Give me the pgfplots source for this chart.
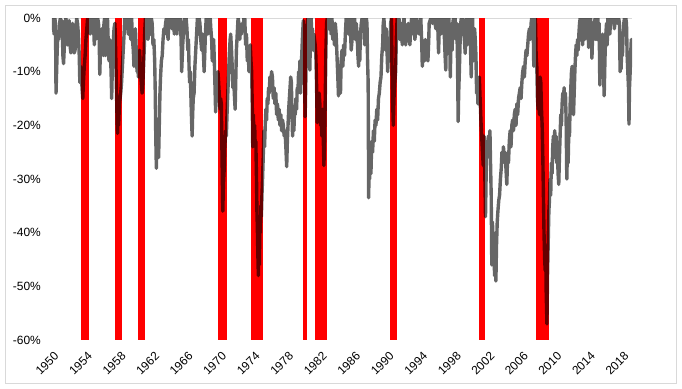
\documentclass[border=0pt]{standalone}
\usepackage{fontspec}
\setmainfont{Liberation Sans}
\usepackage{pgfplots}
\pgfplotsset{compat=1.18}
\definecolor{axgray}{RGB}{217,217,217}
\definecolor{recred}{RGB}{255,0,0}
\begin{document}
\begin{tikzpicture}
\path[use as bounding box] (0,0) rectangle (682bp,389bp);
\draw[axgray, line width=0.8bp] (5.5bp,5.5bp) rectangle (676.5bp,383.5bp);
\begin{axis}[
  at={(52bp,49bp)}, anchor=south west, scale only axis,
  width=580bp, height=322bp,
  xmin=1950, xmax=2019.2, ymin=-60, ymax=0,
  axis line style={draw=none}, major tick length=0pt,
  xtick={1950,1954,1958,1962,1966,1970,1974,1978,1982,1986,1990,1994,1998,2002,2006,2010,2014,2018},
  xticklabels={1950,1954,1958,1962,1966,1970,1974,1978,1982,1986,1990,1994,1998,2002,2006,2010,2014,2018},
  ytick={-60,-50,-40,-30,-20,-10,0},
  yticklabels={-60\%,-50\%,-40\%,-30\%,-20\%,-10\%,0\%},
  tick label style={font=\fontsize{12}{14}\selectfont},
  xticklabel style={inner sep=0pt, yshift=-11bp, xshift=1.5bp, rotate=45, anchor=north east},
  yticklabel style={inner sep=0pt, anchor=east, xshift=-11bp},
  /pgf/number format/assume math mode=true,
  clip=true,
]
\draw[axgray, line width=0.8bp] (axis cs:1950,0) -- (axis cs:2019.2,0);
% recession bars
\addplot[fill=recred, draw=none] coordinates {(1953.46,0) (1954.42,0) (1954.42,-60) (1953.46,-60)};
\addplot[fill=recred, draw=none] coordinates {(1957.52,0) (1958.32,0) (1958.32,-60) (1957.52,-60)};
\addplot[fill=recred, draw=none] coordinates {(1960.22,0) (1961.10,0) (1961.10,-60) (1960.22,-60)};
\addplot[fill=recred, draw=none] coordinates {(1969.85,0) (1970.85,0) (1970.85,-60) (1969.85,-60)};
\addplot[fill=recred, draw=none] coordinates {(1973.75,0) (1975.14,0) (1975.14,-60) (1973.75,-60)};
\addplot[fill=recred, draw=none] coordinates {(1979.99,0) (1980.45,0) (1980.45,-60) (1979.99,-60)};
\addplot[fill=recred, draw=none] coordinates {(1981.38,0) (1982.78,0) (1982.78,-60) (1981.38,-60)};
\addplot[fill=recred, draw=none] coordinates {(1990.33,0) (1991.13,0) (1991.13,-60) (1990.33,-60)};
\addplot[fill=recred, draw=none] coordinates {(2000.99,0) (2001.70,0) (2001.70,-60) (2000.99,-60)};
\addplot[fill=recred, draw=none] coordinates {(2007.76,0) (2009.31,0) (2009.31,-60) (2007.76,-60)};
% drawdown
\addplot[draw=black, draw opacity=0.6, line width=3.4bp, line join=round, mark=none] coordinates {
(1950.00,0) (1950.08,-2) (1950.15,-0.5) (1950.25,-3) (1950.35,0) (1950.42,-1.5) (1950.48,-14) (1950.55,-10) (1950.62,-6) (1950.70,-3) (1950.80,-4) (1950.90,-1)
(1951.00,0) (1951.10,-2) (1951.20,-0.5) (1951.30,-7) (1951.38,-8.5) (1951.48,-5) (1951.55,-2) (1951.65,0) (1951.75,-1) (1951.85,-5) (1951.95,-2)
(1952.05,-0.5) (1952.15,-5) (1952.25,-6.5) (1952.35,-3) (1952.45,-1) (1952.55,-4.5) (1952.65,-6.5) (1952.75,-6) (1952.85,-2) (1952.95,0)
(1953.05,-1) (1953.15,-3) (1953.25,-7) (1953.32,-12) (1953.40,-9) (1953.50,-10) (1953.58,-13) (1953.67,-15) (1953.75,-12) (1953.85,-9) (1953.95,-7)
(1954.05,-4) (1954.15,-2) (1954.25,0) (1954.35,-1.5) (1954.45,0) (1954.55,-3) (1954.65,0) (1954.75,-2) (1954.85,0) (1954.95,-1)
(1955.05,-5) (1955.12,-1) (1955.20,-4) (1955.28,0) (1955.38,-3) (1955.45,0) (1955.55,-1) (1955.62,-3) (1955.70,-10.5) (1955.78,-6) (1955.85,-4) (1955.95,-2)
(1956.05,-4.5) (1956.12,-7) (1956.20,-1) (1956.28,0) (1956.38,-7) (1956.45,-5) (1956.55,-1) (1956.62,0) (1956.72,-5) (1956.80,-8) (1956.88,-4) (1956.95,-6)
(1957.05,-10) (1957.12,-15) (1957.20,-9) (1957.30,-5) (1957.40,-2) (1957.50,-1) (1957.55,-3) (1957.62,-8) (1957.70,-14) (1957.78,-20) (1957.82,-21.5) (1957.88,-18) (1957.95,-20)
(1958.05,-16) (1958.12,-15) (1958.20,-14) (1958.30,-12) (1958.40,-9) (1958.50,-6) (1958.60,-3) (1958.68,0) (1958.75,-1) (1958.85,0)
(1959.00,-1) (1959.10,-3) (1959.20,0) (1959.30,-2) (1959.40,-4) (1959.50,0) (1959.60,-4) (1959.70,-6) (1959.78,-9) (1959.85,-5) (1959.95,-2)
(1960.05,-6) (1960.15,-10) (1960.22,-8) (1960.30,-11) (1960.38,-7) (1960.45,-6) (1960.55,-10) (1960.65,-12) (1960.75,-14) (1960.82,-13) (1960.90,-10)
(1961.00,-6) (1961.08,-2) (1961.15,0) (1961.25,-1) (1961.35,0) (1961.45,-4) (1961.55,-2) (1961.65,0) (1961.75,-3) (1961.85,0) (1961.95,-1)
(1962.05,-5) (1962.15,-4) (1962.25,-8) (1962.32,-14) (1962.38,-22) (1962.45,-28) (1962.50,-24) (1962.58,-20) (1962.65,-23) (1962.72,-26) (1962.80,-20) (1962.88,-14) (1962.95,-11)
(1963.05,-8) (1963.15,-7) (1963.25,-4) (1963.35,-2) (1963.45,-3) (1963.55,-1) (1963.65,0) (1963.75,-2) (1963.85,-4) (1963.92,-1)
(1964.00,0) (1964.10,-1.5) (1964.20,0) (1964.30,-2) (1964.40,0) (1964.50,-1) (1964.60,-3) (1964.70,0) (1964.80,-1) (1964.90,-3)
(1965.00,0) (1965.10,-2) (1965.20,-1) (1965.30,0) (1965.40,-4) (1965.47,-10) (1965.52,-8) (1965.60,-5) (1965.70,-2) (1965.80,0) (1965.90,-1)
(1966.00,0) (1966.10,-2) (1966.20,-6) (1966.28,-4) (1966.35,-9) (1966.42,-12) (1966.50,-10) (1966.58,-15) (1966.65,-19) (1966.72,-22) (1966.78,-18) (1966.85,-15) (1966.95,-14)
(1967.05,-9) (1967.15,-6) (1967.25,-3) (1967.35,0) (1967.45,-3) (1967.55,0) (1967.65,-1) (1967.75,-4) (1967.85,-6) (1967.95,-3)
(1968.05,-6) (1968.15,-10) (1968.22,-7) (1968.30,-3) (1968.40,0) (1968.50,-1) (1968.60,-3) (1968.70,0) (1968.80,-1) (1968.88,0) (1968.95,-2)
(1969.05,-4) (1969.12,-8) (1969.20,-6) (1969.28,-4) (1969.35,-7) (1969.45,-13) (1969.52,-17.5) (1969.60,-14) (1969.70,-12) (1969.80,-10) (1969.88,-12) (1969.95,-14)
(1970.05,-17) (1970.12,-15) (1970.20,-16) (1970.28,-25) (1970.38,-36) (1970.45,-31) (1970.55,-28) (1970.62,-24) (1970.72,-21) (1970.80,-22) (1970.88,-18) (1970.95,-15)
(1971.05,-11) (1971.15,-7) (1971.25,-4) (1971.32,-3) (1971.42,-6) (1971.50,-9) (1971.58,-13) (1971.65,-10) (1971.75,-14) (1971.85,-17) (1971.92,-12)
(1972.00,-6) (1972.10,-3) (1972.20,0) (1972.30,-1) (1972.40,-4) (1972.50,-2) (1972.60,-3) (1972.70,-1) (1972.80,-2) (1972.90,0)
(1973.00,0) (1973.10,-5) (1973.20,-3) (1973.30,-8) (1973.40,-6) (1973.50,-10) (1973.58,-7) (1973.66,-5) (1973.74,-8) (1973.82,-10) (1973.90,-17) (1973.95,-24)
(1974.02,-18) (1974.10,-22) (1974.18,-20) (1974.25,-24) (1974.32,-23) (1974.40,-30) (1974.45,-36) (1974.50,-39) (1974.56,-44) (1974.62,-48) (1974.68,-43) (1974.74,-46) (1974.80,-38) (1974.86,-40) (1974.92,-35) (1974.98,-37)
(1975.05,-33) (1975.12,-30) (1975.20,-26) (1975.28,-21) (1975.36,-24) (1975.44,-20) (1975.52,-17) (1975.60,-19) (1975.68,-15) (1975.76,-16) (1975.84,-13) (1975.92,-14)
(1976.00,-11) (1976.10,-12) (1976.20,-10) (1976.30,-11) (1976.40,-15) (1976.50,-13) (1976.60,-16) (1976.70,-14) (1976.80,-18) (1976.90,-16)
(1977.00,-19) (1977.10,-17) (1977.20,-20) (1977.30,-18) (1977.40,-21) (1977.50,-19) (1977.60,-20) (1977.70,-22) (1977.80,-21) (1977.90,-24)
(1978.00,-27.7) (1978.08,-23) (1978.16,-20) (1978.24,-17) (1978.32,-15) (1978.40,-13) (1978.48,-11) (1978.56,-12) (1978.62,-17) (1978.70,-22) (1978.78,-19) (1978.86,-21) (1978.94,-17)
(1979.02,-18) (1979.10,-15) (1979.18,-17) (1979.26,-13) (1979.34,-14) (1979.42,-10) (1979.50,-12) (1979.58,-8) (1979.66,-14) (1979.74,-9) (1979.82,-6) (1979.90,-3) (1979.98,-0.5)
(1980.06,-2) (1980.12,-9) (1980.20,-18.4) (1980.28,-12) (1980.36,-5) (1980.44,-2) (1980.52,0) (1980.60,-3) (1980.68,-1) (1980.76,-9.7) (1980.84,-3) (1980.92,0)
(1981.00,-4) (1981.08,-2) (1981.16,-6) (1981.24,-3) (1981.32,-4) (1981.40,-5) (1981.48,-7) (1981.56,-12) (1981.64,-19.5) (1981.72,-15) (1981.80,-18) (1981.88,-14) (1981.96,-16)
(1982.04,-20) (1982.12,-18) (1982.20,-22) (1982.28,-17) (1982.36,-22) (1982.44,-27.5) (1982.52,-23) (1982.60,-15) (1982.68,-6) (1982.76,-1) (1982.84,0)
(1982.92,-1) (1983.00,-2) (1983.10,-1) (1983.20,0) (1983.30,-3) (1983.40,0) (1983.50,-4) (1983.60,-2) (1983.70,-5) (1983.80,-1) (1983.90,-3)
(1984.00,-7) (1984.10,-11) (1984.18,-14.5) (1984.25,-10) (1984.35,-12) (1984.42,-14) (1984.50,-8) (1984.60,-6) (1984.70,-9) (1984.80,-5) (1984.90,-7)
(1985.00,-3) (1985.10,0) (1985.20,-2) (1985.30,0) (1985.40,-3) (1985.50,0) (1985.60,-2) (1985.70,-6) (1985.80,-4) (1985.90,0)
(1986.00,-2) (1986.10,0) (1986.20,-4) (1986.30,-1) (1986.40,-3) (1986.50,-7) (1986.58,-9) (1986.65,-5) (1986.72,-8) (1986.80,-3) (1986.90,-1)
(1987.00,0) (1987.10,-1) (1987.20,0) (1987.30,-5) (1987.40,-2) (1987.50,0) (1987.58,-1) (1987.65,-8) (1987.72,-12) (1987.78,-33.5) (1987.83,-28) (1987.90,-30) (1987.98,-26)
(1988.05,-29) (1988.15,-23) (1988.25,-25) (1988.35,-21) (1988.45,-23) (1988.55,-19) (1988.65,-20) (1988.75,-17) (1988.85,-19) (1988.95,-15)
(1989.05,-14) (1989.15,-12) (1989.25,-11) (1989.35,-7) (1989.45,-5) (1989.52,-1) (1989.60,0) (1989.70,-3) (1989.80,-6) (1989.88,-2) (1989.95,-5)
(1990.05,-10) (1990.12,-7) (1990.20,-4) (1990.30,-8) (1990.40,-1) (1990.50,0) (1990.58,-10) (1990.65,-16) (1990.72,-20) (1990.80,-15) (1990.90,-12)
(1991.00,-10) (1991.10,-3) (1991.18,0) (1991.30,-2) (1991.40,0) (1991.50,-4) (1991.60,-1) (1991.70,-3) (1991.80,-5) (1991.90,-1)
(1992.00,0) (1992.10,-3) (1992.20,-5) (1992.30,-2) (1992.40,-4) (1992.50,-1) (1992.60,-3) (1992.70,-5) (1992.80,-2) (1992.90,0)
(1993.00,-1) (1993.10,-3) (1993.20,0) (1993.30,-4) (1993.40,-2) (1993.50,0) (1993.60,-2) (1993.70,-1) (1993.80,-3) (1993.90,-1)
(1994.00,0) (1994.10,-4) (1994.18,-9) (1994.25,-6) (1994.35,-5) (1994.45,-8) (1994.55,-4) (1994.65,-7) (1994.75,-5) (1994.85,-8) (1994.95,-4)
(1995.00,-1) (1995.20,0) (1995.40,-1) (1995.60,0) (1995.80,-2) (1996.00,0) (1996.12,-6.5) (1996.20,-2) (1996.30,0) (1996.40,-3) (1996.50,0) (1996.60,-2) (1996.70,0) (1996.80,-3) (1996.90,-7) (1996.98,-9.7)
(1997.05,-4) (1997.15,0) (1997.25,-2) (1997.35,0) (1997.45,-4) (1997.52,-11) (1997.58,-6) (1997.66,-3) (1997.74,-6) (1997.82,-1) (1997.90,0)
(1998.00,-2) (1998.10,0) (1998.20,-4) (1998.30,-1) (1998.38,-8) (1998.46,-19.3) (1998.52,-14) (1998.60,-10) (1998.68,-5) (1998.76,-1) (1998.84,0) (1998.92,-3)
(1999.00,0) (1999.10,-2) (1999.20,-4) (1999.30,-6.6) (1999.38,-2) (1999.46,0) (1999.55,-5) (1999.62,-2) (1999.70,0) (1999.78,-3) (1999.86,0) (1999.94,-6)
(2000.02,-11) (2000.10,-4) (2000.18,0) (2000.26,-8) (2000.34,-5) (2000.42,-2) (2000.50,-4) (2000.58,-7) (2000.66,-14) (2000.74,-12) (2000.82,-16) (2000.90,-13) (2000.98,-11)
(2001.10,-16) (2001.20,-20) (2001.35,-24.6) (2001.45,-27.5) (2001.55,-22) (2001.65,-30) (2001.72,-37) (2001.80,-29) (2001.86,-23) (2001.95,-26)
(2002.05,-22) (2002.15,-24) (2002.25,-21) (2002.32,-27) (2002.40,-33) (2002.47,-46) (2002.55,-38) (2002.62,-42) (2002.70,-40) (2002.80,-48) (2002.88,-44) (2002.96,-49)
(2003.04,-42) (2003.12,-38) (2003.20,-36) (2003.30,-34) (2003.40,-33) (2003.50,-30) (2003.60,-28) (2003.68,-25) (2003.76,-27) (2003.86,-24) (2003.96,-26)
(2004.06,-25) (2004.16,-28) (2004.26,-31) (2004.36,-26) (2004.46,-27) (2004.56,-23) (2004.66,-21) (2004.76,-24) (2004.86,-20) (2004.96,-19)
(2005.06,-21) (2005.16,-18) (2005.26,-17) (2005.36,-20) (2005.46,-16) (2005.56,-18) (2005.66,-15) (2005.76,-14) (2005.86,-13) (2005.96,-15)
(2006.06,-12) (2006.16,-10) (2006.26,-9) (2006.36,-11) (2006.46,-8) (2006.56,-6) (2006.66,-7) (2006.76,-5) (2006.86,-3) (2006.96,-2)
(2007.06,-4) (2007.16,-1) (2007.24,0) (2007.32,-2) (2007.40,0) (2007.48,-9) (2007.54,-4) (2007.60,-1) (2007.68,0) (2007.76,-7) (2007.84,-9) (2007.92,-15)
(2008.00,-17) (2008.08,-13) (2008.16,-18) (2008.24,-11) (2008.32,-12) (2008.40,-17) (2008.48,-20) (2008.56,-26) (2008.63,-33) (2008.70,-40) (2008.78,-45) (2008.84,-47) (2008.90,-43) (2008.96,-51)
(2009.05,-57) (2009.12,-48) (2009.20,-42) (2009.28,-36) (2009.35,-34) (2009.42,-30) (2009.50,-33) (2009.58,-27) (2009.66,-29) (2009.74,-24) (2009.82,-22) (2009.90,-26) (2009.98,-21)
(2010.06,-24) (2010.14,-22) (2010.22,-27) (2010.30,-25) (2010.38,-29) (2010.46,-31) (2010.54,-26) (2010.62,-22) (2010.70,-18) (2010.78,-20) (2010.86,-16) (2010.94,-14)
(2011.02,-15) (2011.10,-13) (2011.18,-16) (2011.26,-14) (2011.34,-19) (2011.42,-30) (2011.50,-24) (2011.58,-27) (2011.66,-21) (2011.74,-22) (2011.82,-16) (2011.90,-13) (2011.98,-10)
(2012.06,-9) (2012.14,-13) (2012.22,-18) (2012.30,-14) (2012.38,-10) (2012.46,-7) (2012.54,-5) (2012.62,-7) (2012.70,-4) (2012.78,-6) (2012.86,-3) (2012.94,-1)
(2013.02,0) (2013.10,-2) (2013.20,0) (2013.30,-5) (2013.38,-2) (2013.46,0) (2013.55,-4) (2013.62,-1) (2013.70,-3) (2013.78,0) (2013.86,-2) (2013.94,0)
(2014.02,-5.5) (2014.10,-1) (2014.18,-3) (2014.26,0) (2014.34,-2) (2014.42,-7.5) (2014.50,-3) (2014.58,-1) (2014.66,-4) (2014.72,-1) (2014.80,0) (2014.88,-4) (2014.96,-1)
(2015.04,-4) (2015.12,0) (2015.20,-3) (2015.28,-1) (2015.36,-12.5) (2015.44,-9) (2015.52,-11) (2015.60,-5) (2015.68,-3) (2015.76,-8) (2015.82,-11) (2015.88,-14.5) (2015.94,-10)
(2016.00,-6) (2016.08,-3) (2016.16,-1) (2016.24,-5) (2016.32,0) (2016.40,-1) (2016.48,0) (2016.56,-3) (2016.64,0) (2016.72,-1) (2016.80,0) (2016.90,-0.5)
(2017.00,0) (2017.10,-2) (2017.20,0) (2017.30,-1) (2017.40,0) (2017.50,-1) (2017.60,0) (2017.70,-1) (2017.78,-10) (2017.84,-7) (2017.90,-9.5) (2017.98,-5)
(2018.06,-7) (2018.14,-3) (2018.22,-1) (2018.30,0) (2018.38,-2) (2018.46,0) (2018.54,-1) (2018.62,-7) (2018.70,-10) (2018.78,-13) (2018.84,-19.8) (2018.90,-13) (2018.98,-10)
(2019.06,-6) (2019.12,-4) (2019.20,-6)
};
\end{axis}
\end{tikzpicture}
\end{document}
